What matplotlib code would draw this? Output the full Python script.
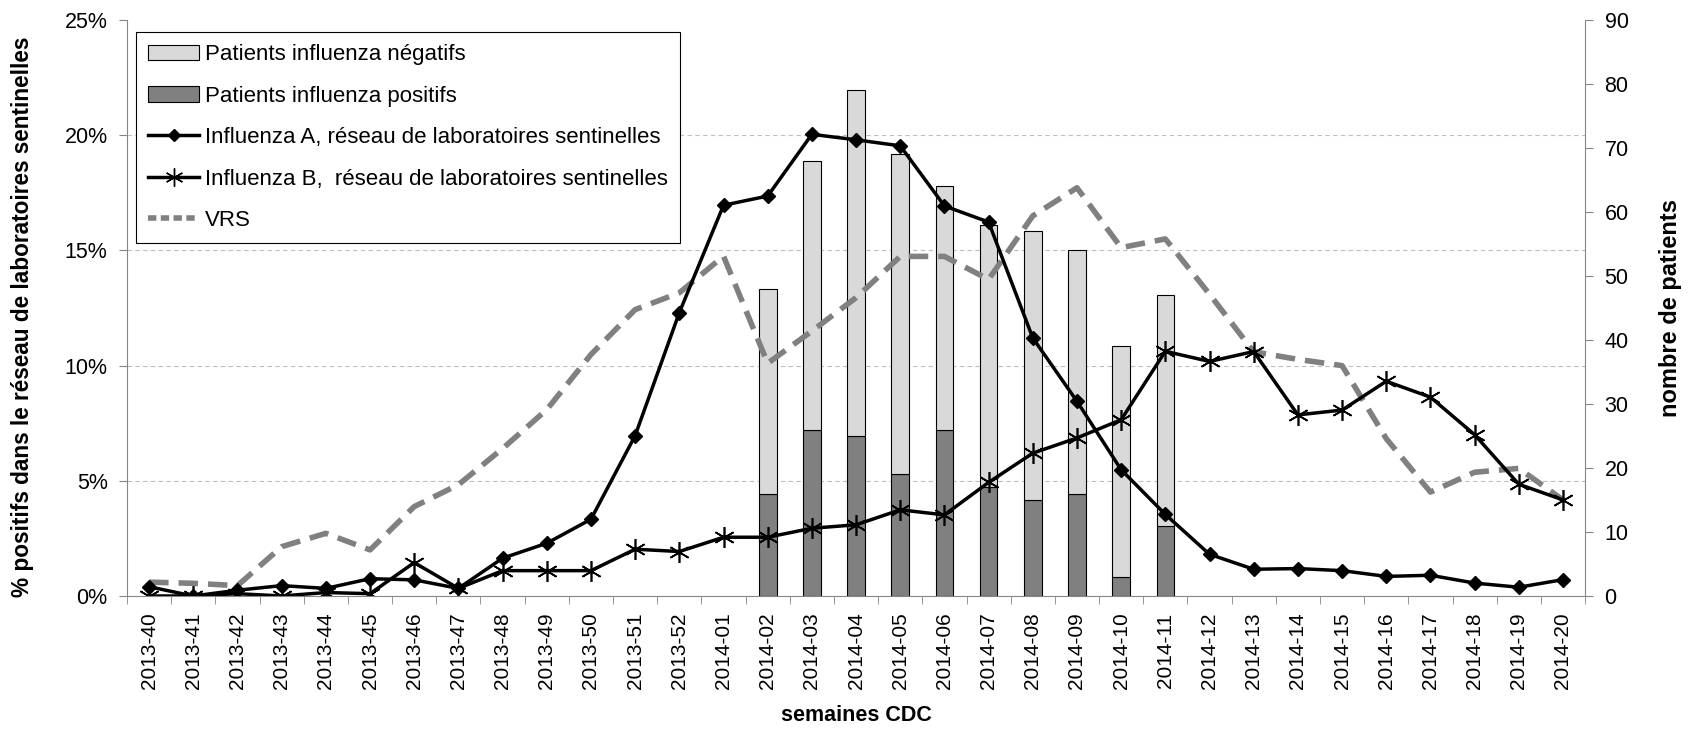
import matplotlib.pyplot as plt
import numpy as np
from matplotlib.lines import Line2D
from matplotlib.patches import Patch

plt.rcParams['font.family'] = ['Liberation Sans', 'DejaVu Sans']

weeks = ['2013-%d' % w for w in range(40, 53)] + ['2014-%02d' % w for w in range(1, 21)]

# % positifs (axe gauche)
flu_a = [0.4, 0.0, 0.25, 0.45, 0.33, 0.75, 0.7, 0.33, 1.64, 2.29, 3.33, 6.96, 12.3,
         16.96, 17.36, 20.04, 19.8, 19.54, 16.93, 16.23, 11.2, 8.45, 5.48, 3.54,
         1.81, 1.16, 1.19, 1.1, 0.85, 0.9, 0.56, 0.38, 0.71]
flu_b = [0.0, 0.0, 0.1, 0.0, 0.15, 0.1, 1.45, 0.33, 1.1, 1.1, 1.1, 2.03, 1.93,
         2.55, 2.55, 2.94, 3.09, 3.74, 3.52, 4.93, 6.2, 6.86, 7.65, 10.62,
         10.18, 10.61, 7.86, 8.07, 9.32, 8.63, 7.0, 4.85, 4.17]
vrs = [0.6, 0.55, 0.45, 2.14, 2.72, 2.0, 3.88, 4.83, 6.4, 8.09, 10.48, 12.43, 13.16,
       14.75, 10.1, 11.5, 12.95, 14.74, 14.74, 13.74, 16.5, 17.72, 15.12, 15.5,
       13.1, 10.6, 10.27, 10.0, 6.83, 4.51, 5.37, 5.54, 4.17]

# nombre de patients (axe droit)
bar_weeks = ['2014-%02d' % w for w in range(2, 12)]
pos_patients = [16, 26, 25, 19, 26, 17, 15, 16, 3, 11]
neg_patients = [32, 42, 54, 50, 38, 41, 42, 38, 36, 36]

x = np.arange(len(weeks))
xb = [weeks.index(w) for w in bar_weeks]

fig = plt.figure(figsize=(16.96, 7.31), dpi=100)
ax = fig.add_axes([0.0749, 0.1847, 0.8597, 0.7879])
ax2 = ax.twinx()
ax.set_zorder(ax2.get_zorder() + 1)
ax.patch.set_visible(False)

ax2.bar(xb, pos_patients, width=0.4, color='#808080', edgecolor='black', linewidth=0.8)
ax2.bar(xb, neg_patients, width=0.4, bottom=pos_patients, color='#d9d9d9',
        edgecolor='black', linewidth=0.8)

ax.plot(x, vrs, color='#808080', lw=4, dashes=(3.5, 1.8))
ax.plot(x, flu_a, color='black', lw=2.5, marker='D', ms=7)
ax.plot(x, flu_b, color='black', lw=2.5, marker=(6, 2, 0), ms=15, mew=1.2)

ax.set_xlim(-0.5, len(weeks) - 0.5)
ax.set_ylim(0, 25)
ax2.set_ylim(0, 90)

ax.set_yticks(np.arange(0, 26, 5))
ax.set_yticklabels(['%d%%' % v for v in range(0, 26, 5)])
ax2.set_yticks(np.arange(0, 91, 10))
ax2.set_yticks(np.arange(18, 91, 18), minor=True)
ax2.grid(axis='y', which='minor', color='#bfbfbf', ls=(0, (4, 3)), lw=0.8)
ax2.set_axisbelow(True)

ax.set_xticks(x)
ax.set_xticklabels(weeks, rotation=90)
ax.set_xticks(np.arange(-0.5, len(weeks), 1), minor=True)
ax.tick_params(axis='x', which='major', length=0, pad=12, labelsize=15)
ax.tick_params(axis='x', which='minor', length=6, color='#868686')
ax.tick_params(axis='y', length=6, color='#868686', pad=8, labelsize=15.5)
ax2.tick_params(axis='y', which='major', length=6, color='#868686', pad=8, labelsize=15.5)
ax2.tick_params(axis='y', which='minor', length=0)

for a in (ax, ax2):
    a.spines['top'].set_visible(False)
ax.spines['right'].set_visible(False)
ax2.spines['left'].set_visible(False)
ax2.spines['bottom'].set_visible(False)
ax.spines['left'].set_color('#868686')
ax.spines['bottom'].set_color('#868686')
ax2.spines['right'].set_color('#868686')

ax.set_ylabel('% positifs dans le réseau de laboratoires sentinelles',
              fontsize=16.3, fontweight='bold')
ax.yaxis.set_label_coords(-0.064, 0.485)
ax2.set_ylabel('nombre de patients', fontsize=17, fontweight='bold')
ax2.yaxis.set_label_coords(1.051, 0.5)
ax.set_xlabel('semaines CDC', fontsize=15.5, fontweight='bold')
ax.xaxis.set_label_coords(0.5, -0.19)

handles = [
    Patch(facecolor='#d9d9d9', edgecolor='black', linewidth=0.8),
    Patch(facecolor='#808080', edgecolor='black', linewidth=0.8),
    Line2D([], [], color='black', lw=2.5, marker='D', ms=6),
    Line2D([], [], color='black', lw=2.5, marker=(6, 2, 0), ms=13, mew=1.0),
    Line2D([], [], color='#808080', lw=4, dashes=(1.5, 0.8)),
]
labels = ['Patients influenza négatifs', 'Patients influenza positifs',
          'Influenza A, réseau de laboratoires sentinelles',
          'Influenza B,  réseau de laboratoires sentinelles', 'VRS']
leg = ax.legend(handles, labels, loc='upper left', bbox_to_anchor=(0.006, 0.979),
                fontsize=16, fancybox=False, edgecolor='black', framealpha=1,
                borderaxespad=0, handlelength=2.3, labelspacing=0.92,
                handletextpad=0.25, borderpad=0.55)
leg.get_frame().set_linewidth(0.8)

fig.savefig('out.png', dpi=100)
